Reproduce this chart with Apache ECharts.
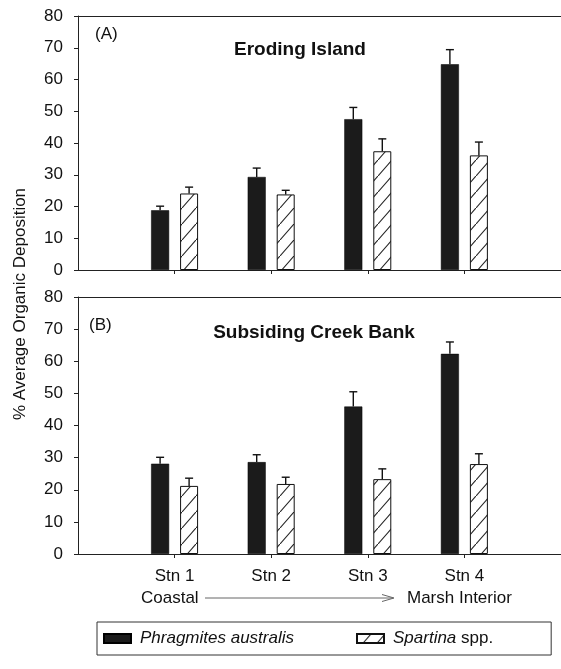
<!DOCTYPE html>
<html>
<head>
<meta charset="utf-8">
<script src="https://cdn.jsdelivr.net/npm/echarts@6/dist/echarts.min.js"></script>
<style>
html,body{margin:0;padding:0;background:#fff;}
#chart{width:561px;height:669px;}
</style>
</head>
<body>
<div id="chart"></div>
<script>
// ---- data ----
const categories = ['', 'Stn 1', 'Stn 2', 'Stn 3', 'Stn 4', ''];
const stations = ['Stn 1', 'Stn 2', 'Stn 3', 'Stn 4'];
const yTicks = [0, 10, 20, 30, 40, 50, 60, 70, 80];
const seriesNames = ['Phragmites australis', 'Spartina spp.'];
// Panel A: Eroding Island
const phragA = [18.8, 29.3, 47.5, 64.8];
const phragAErr = [1.3, 2.8, 3.7, 4.6];
const spartA = [24.1, 23.8, 37.4, 36.1];
const spartAErr = [2.0, 1.3, 3.9, 4.2];
// Panel B: Subsiding Creek Bank
const phragB = [28.1, 28.6, 45.9, 62.3];
const phragBErr = [2.0, 2.3, 4.6, 3.7];
const spartB = [21.2, 21.8, 23.3, 28.0];
const spartBErr = [2.4, 2.1, 3.2, 3.2];
const panelTitles = ['Eroding Island', 'Subsiding Creek Bank'];
const panelTags = ['(A)', '(B)'];
const gradientLabels = ['Coastal', 'Marsh Interior'];
const yName = '% Average Organic Deposition';

const FONT = "'Liberation Sans', Arial, sans-serif";

// hatch pattern
const pc = document.createElement('canvas');
pc.width = 14; pc.height = 16;
const pctx = pc.getContext('2d');
pctx.fillStyle = '#fff';
pctx.fillRect(0, 0, 14, 16);
pctx.strokeStyle = '#222';
pctx.lineWidth = 1.1;
pctx.beginPath();
pctx.moveTo(0, 16); pctx.lineTo(14, 0);
pctx.stroke();
const hatch = { image: pc, repeat: 'repeat' };

function padData(vals) {
  return ['-'].concat(vals).concat(['-']);
}
const OFF = 14.5;
function errSeries(idx, vals, errs, offset) {
  return {
    type: 'custom', name: 'err' + idx + offset,
    xAxisIndex: idx, yAxisIndex: idx, z: 10, silent: true,
    data: vals.map((v, i) => [i + 1, v, errs[i]]),
    renderItem: function (params, api) {
      const p0 = api.coord([api.value(0), api.value(1)]);
      const p1 = api.coord([api.value(0), api.value(1) + api.value(2)]);
      const x = p0[0] + offset;
      return {
        type: 'group', children: [
          { type: 'line', shape: { x1: x, y1: p0[1], x2: x, y2: p1[1] }, style: { stroke: '#111', lineWidth: 1.4 } },
          { type: 'line', shape: { x1: x - 4, y1: p1[1], x2: x + 4, y2: p1[1] }, style: { stroke: '#111', lineWidth: 1.4 } }
        ]
      };
    }
  };
}
function barSeries(idx, name, vals) {
  const isP = name === seriesNames[0];
  return {
    type: 'bar', name: name, xAxisIndex: idx, yAxisIndex: idx,
    data: padData(vals), barWidth: 18, barGap: '61%',
    itemStyle: isP ? { color: '#1b1b1b', borderColor: '#000', borderWidth: 0.5 }
                   : { color: hatch, borderColor: '#111', borderWidth: 1 }
  };
}
const tickFn = (i) => i >= 1 && i <= 4;
function xAxis(idx, showLabels) {
  return {
    type: 'category', gridIndex: idx, data: categories, boundaryGap: false,
    axisLine: { lineStyle: { color: '#222', width: 1 } },
    axisTick: { show: true, interval: tickFn, length: 4, lineStyle: { color: '#222' } },
    axisLabel: { show: showLabels, interval: tickFn, fontSize: 17, color: '#111', fontFamily: FONT, margin: 14 },
    splitLine: { show: false }
  };
}
function topAxis(idx) {
  return {
    type: 'category', gridIndex: idx, data: categories, boundaryGap: false, position: 'top',
    axisLine: { show: true, lineStyle: { color: '#222', width: 1 } },
    axisTick: { show: false }, axisLabel: { show: false }, splitLine: { show: false }
  };
}
function yAxis(idx) {
  return {
    type: 'value', gridIndex: idx, min: yTicks[0], max: yTicks[yTicks.length - 1], interval: 10,
    axisLine: { show: true, lineStyle: { color: '#222', width: 1 } },
    axisTick: { show: true, length: 4, lineStyle: { color: '#222' } },
    axisLabel: { fontSize: 17, color: '#111', fontFamily: FONT, margin: 15 },
    splitLine: { show: false }
  };
}

const chart = echarts.init(document.getElementById('chart'), null, { renderer: 'canvas' });
chart.setOption({
  animation: false,
  backgroundColor: '#fff',
  grid: [
    { left: 78, top: 16, right: 0, height: 254 },
    { left: 78, top: 297, right: 0, height: 257 }
  ],
  xAxis: [xAxis(0, false), xAxis(1, true), topAxis(0), topAxis(1)],
  yAxis: [yAxis(0), yAxis(1)],
  legend: {
    data: seriesNames,
    left: 97, top: 622,
    padding: [8, 58, 8, 6],
    itemWidth: 27, itemHeight: 9, itemGap: 62,
    borderColor: '#333', borderWidth: 1,
    icon: 'rect',
    textStyle: { fontSize: 17, color: '#111', fontFamily: FONT, padding: [0, 0, 0, 4],
      rich: { i: { fontStyle: 'italic', fontSize: 17, fontFamily: FONT, color: '#111' } } },
    formatter: function (name) {
      if (name === 'Spartina spp.') return '{i|Spartina} spp.';
      return '{i|' + name + '}';
    }
  },
  graphic: [
    { type: 'text', x: 95, y: 34, style: { text: panelTags[0], font: '17px ' + FONT, fill: '#111', textVerticalAlign: 'middle' } },
    { type: 'text', x: 300, y: 50, style: { text: panelTitles[0], font: 'bold 19px ' + FONT, fill: '#111', textAlign: 'center', textVerticalAlign: 'middle' } },
    { type: 'text', x: 89, y: 325, style: { text: panelTags[1], font: '17px ' + FONT, fill: '#111', textVerticalAlign: 'middle' } },
    { type: 'text', x: 314, y: 333, style: { text: panelTitles[1], font: 'bold 19px ' + FONT, fill: '#111', textAlign: 'center', textVerticalAlign: 'middle' } },
    { type: 'text', x: 20, y: 304, rotation: Math.PI / 2, style: { text: yName, font: '17px ' + FONT, fill: '#111', textAlign: 'center', textVerticalAlign: 'middle' } },
    { type: 'text', x: 141, y: 598, style: { text: gradientLabels[0], font: '17px ' + FONT, fill: '#111', textVerticalAlign: 'middle' } },
    { type: 'text', x: 407, y: 598, style: { text: gradientLabels[1], font: '17px ' + FONT, fill: '#111', textVerticalAlign: 'middle' } },
    { type: 'line', shape: { x1: 205, y1: 598, x2: 393, y2: 598 }, style: { stroke: '#666', lineWidth: 1 } },
    { type: 'polyline', shape: { points: [[382, 594.5], [394, 598], [382, 601.5]] }, style: { stroke: '#666', lineWidth: 1, fill: null } }
  ],
  series: [
    barSeries(0, seriesNames[0], phragA),
    barSeries(0, seriesNames[1], spartA),
    barSeries(1, seriesNames[0], phragB),
    barSeries(1, seriesNames[1], spartB),
    errSeries(0, phragA, phragAErr, -OFF),
    errSeries(0, spartA, spartAErr, OFF),
    errSeries(1, phragB, phragBErr, -OFF),
    errSeries(1, spartB, spartBErr, OFF)
  ]
});
</script>
</body>
</html>
